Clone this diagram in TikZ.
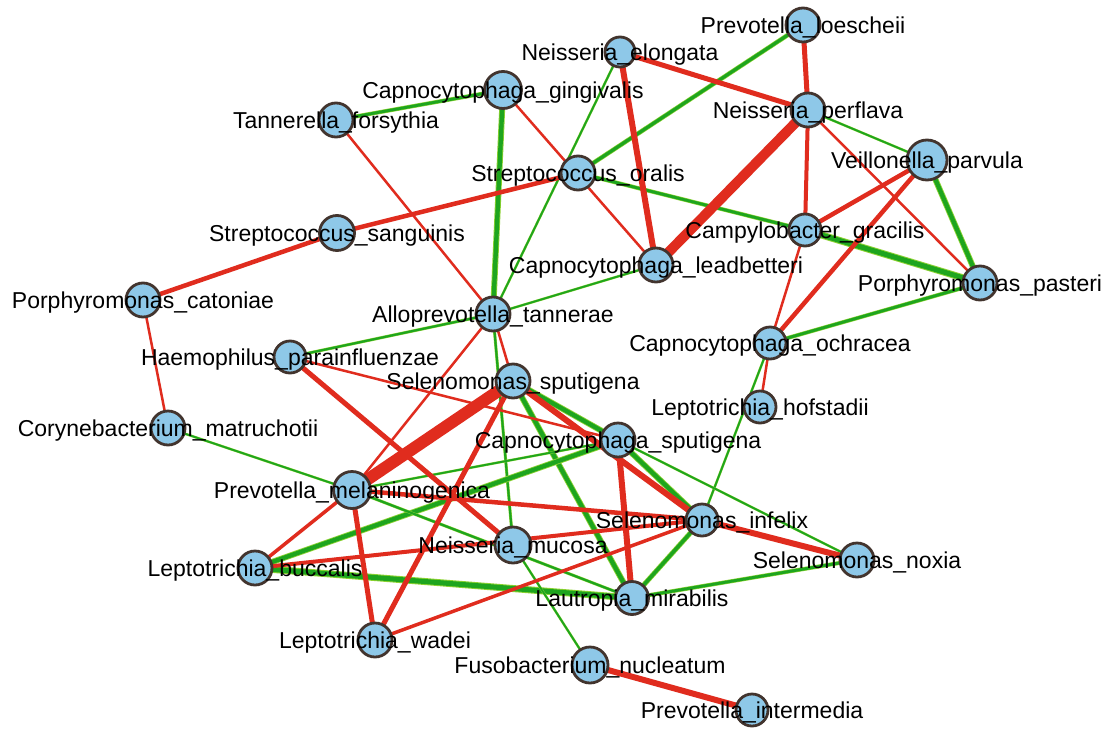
\documentclass[tikz,border=0pt]{standalone}
\usepackage{fontspec}
\setmainfont{Liberation Sans}
\definecolor{redE}{RGB}{224,44,30}
\definecolor{grnE}{RGB}{30,165,30}
\definecolor{grnL}{RGB}{140,210,50}
\definecolor{nodeFill}{RGB}{142,200,232}
\definecolor{nodeLine}{RGB}{66,52,46}
\pgfdeclarelayer{bg}
\pgfdeclarelayer{edges}
\pgfsetlayers{bg,edges,main}
\begin{document}
\begin{tikzpicture}[x=1pt,y=-1pt,
  bact/.style={circle, fill=nodeFill, draw=nodeLine, line width=2.8pt, minimum size=34pt, inner sep=0pt},
  lbl/.style={font=\fontsize{23}{25}\selectfont, inner sep=0pt, text=black, anchor=base, yshift=-8pt},
  neg/.style={draw=redE, line width=#1pt},
  neg/.default=3,
  pos/.style={draw=grnL, line width=#1pt, postaction={draw=grnE, line width=0.72*#1pt}},
  pos/.default=3]
\begin{pgfonlayer}{bg}
\fill[white] (0,0) rectangle (1110,731);
\end{pgfonlayer}
\useasboundingbox (0,0) rectangle (1110,731);

% nodes
\node[bact] (PL) at (803,25) {};
\node[bact, minimum size=30pt] (NE) at (620,52) {};
\node[bact, minimum size=37pt] (CGi) at (503,90) {};
\node[bact] (NP) at (808,110) {};
\node[bact] (TF) at (336,120) {};
\node[bact, minimum size=40pt] (VP) at (927,160) {};
\node[bact] (SO) at (578,173) {};
\node[bact, minimum size=35pt] (SS) at (337,233) {};
\node[bact, minimum size=32pt] (CG) at (805,230) {};
\node[bact] (CL) at (656,265) {};
\node[bact] (PP) at (980,283) {};
\node[bact] (PC) at (143,300) {};
\node[bact] (AT) at (493,314) {};
\node[bact, minimum size=32pt] (CO) at (770,343) {};
\node[bact, minimum size=32pt] (HP) at (290,357) {};
\node[bact] (SSp) at (513,381) {};
\node[bact, minimum size=32pt] (LH) at (760,407) {};
\node[bact] (CM) at (168,428) {};
\node[bact] (CSp) at (618,440) {};
\node[bact, minimum size=37pt] (PM) at (352,490) {};
\node[bact, minimum size=32pt] (SI) at (702,520) {};
\node[bact, minimum size=36pt] (NM) at (513,545) {};
\node[bact] (SN) at (857,560) {};
\node[bact] (LB) at (255,568) {};
\node[bact, minimum size=33pt] (LM) at (632,598) {};
\node[bact] (LW) at (375,640) {};
\node[bact, minimum size=36pt] (FN) at (590,665) {};
\node[bact, minimum size=32pt] (PI) at (752,710) {};

% labels
\node[lbl] (PL-l) at (PL.center) {Prevotella\_loescheii};
\node[lbl] (NE-l) at (NE.center) {Neisseria\_elongata};
\node[lbl] (CGi-l) at (CGi.center) {Capnocytophaga\_gingivalis};
\node[lbl] (NP-l) at (NP.center) {Neisseria\_perflava};
\node[lbl] (TF-l) at (TF.center) {Tannerella\_forsythia};
\node[lbl] (VP-l) at (VP.center) {Veillonella\_parvula};
\node[lbl] (SO-l) at (SO.center) {Streptococcus\_oralis};
\node[lbl] (SS-l) at (SS.center) {Streptococcus\_sanguinis};
\node[lbl] (CG-l) at (CG.center) {Campylobacter\_gracilis};
\node[lbl] (CL-l) at (CL.center) {Capnocytophaga\_leadbetteri};
\node[lbl] (PP-l) at (PP.center) {Porphyromonas\_pasteri};
\node[lbl] (PC-l) at (PC.center) {Porphyromonas\_catoniae};
\node[lbl] (AT-l) at (AT.center) {Alloprevotella\_tannerae};
\node[lbl] (CO-l) at (CO.center) {Capnocytophaga\_ochracea};
\node[lbl] (HP-l) at (HP.center) {Haemophilus\_parainfluenzae};
\node[lbl] (SSp-l) at (SSp.center) {Selenomonas\_sputigena};
\node[lbl] (LH-l) at (LH.center) {Leptotrichia\_hofstadii};
\node[lbl] (CM-l) at (CM.center) {Corynebacterium\_matruchotii};
\node[lbl] (CSp-l) at (CSp.center) {Capnocytophaga\_sputigena};
\node[lbl] (PM-l) at (PM.center) {Prevotella\_melaninogenica};
\node[lbl] (SI-l) at (SI.center) {Selenomonas\_infelix};
\node[lbl] (NM-l) at (NM.center) {Neisseria\_mucosa};
\node[lbl] (SN-l) at (SN.center) {Selenomonas\_noxia};
\node[lbl] (LB-l) at (LB.center) {Leptotrichia\_buccalis};
\node[lbl] (LM-l) at (LM.center) {Lautropia\_mirabilis};
\node[lbl] (LW-l) at (LW.center) {Leptotrichia\_wadei};
\node[lbl] (FN-l) at (FN.center) {Fusobacterium\_nucleatum};
\node[lbl] (PI-l) at (PI.center) {Prevotella\_intermedia};

\begin{pgfonlayer}{edges}
% positive (green)
\draw[pos=4] (TF.center) -- (CGi.center);
\draw[pos=6] (CGi.center) -- (AT.center);
\draw[pos=2.5] (NE.center) -- (AT.center);
\draw[pos=4.5] (SO.center) -- (PL.center);
\draw[pos=4] (SO.center) -- (CG.center);
\draw[pos=7] (CG.center) -- (PP.center);
\draw[pos=2.5] (NP.center) -- (VP.center);
\draw[pos=6] (VP.center) -- (PP.center);
\draw[pos=4] (PP.center) -- (CO.center);
\draw[pos=2.5] (CL.center) -- (AT.center);
\draw[pos=3] (HP.center) -- (AT.center);
\draw[pos=2.5] (CO.center) -- (SI.center);
\draw[pos=2.5] (CM.center) -- (PM.center);
\draw[pos=3] (AT.center) -- (NM.center);
\draw[pos=6] (SSp.center) -- (CSp.center);
\draw[pos=6] (SSp.center) -- (LM.center);
\draw[pos=6] (CSp.center) -- (SI.center);
\draw[pos=6] (LB.center) -- (CSp.center);
\draw[pos=2.5] (PM.center) -- (CSp.center);
\draw[pos=3] (PM.center) -- (LM.center);
\draw[pos=7] (LB.center) -- (LM.center);
\draw[pos=2.5] (NM.center) -- (FN.center);
\draw[pos=2.5] (CSp.center) -- (SN.center);
\draw[pos=5] (SI.center) -- (LM.center);
\draw[pos=4] (LM.center) -- (SN.center);
% negative (red)
\draw[neg=4.5] (SS.center) -- (SO.center);
\draw[neg=4.5] (SS.center) -- (PC.center);
\draw[neg=2.5] (PC.center) -- (CM.center);
\draw[neg=2.5] (TF.center) -- (AT.center);
\draw[neg=2.5] (CGi.center) -- (CL.center);
\draw[neg=5] (NE.center) -- (NP.center);
\draw[neg=6] (NE.center) -- (CL.center);
\draw[neg=5] (PL.center) -- (NP.center);
\draw[neg=10] (NP.center) -- (CL.center);
\draw[neg=4] (NP.center) -- (CG.center);
\draw[neg=2.5] (NP.center) -- (PP.center);
\draw[neg=4.5] (VP.center) -- (CG.center);
\draw[neg=4.5] (VP.center) -- (CO.center);
\draw[neg=2.5] (CG.center) -- (CO.center);
\draw[neg=2.5] (CO.center) -- (LH.center);
\draw[neg=2.5] (AT.center) -- (SSp.center);
\draw[neg=2.5] (AT.center) -- (PM.center);
\draw[neg=2.5] (HP.center) -- (CSp.center);
\draw[neg=5] (HP.center) -- (NM.center);
\draw[neg=12] (SSp.center) -- (PM.center);
\draw[neg=5] (SSp.center) -- (LW.center);
\draw[neg=6] (SSp.center) -- (SI.center);
\draw[neg=6] (CSp.center) -- (LM.center);
\draw[neg=4.5] (PM.center) -- (SI.center);
\draw[neg=3.5] (PM.center) -- (LB.center);
\draw[neg=5] (PM.center) -- (LW.center);
\draw[neg=4] (LB.center) -- (SI.center);
\draw[neg=3.5] (LW.center) -- (SI.center);
\draw[neg=6] (SI.center) -- (SN.center);
\draw[neg=6] (FN.center) -- (PI.center);
\end{pgfonlayer}
\end{tikzpicture}
\end{document}
